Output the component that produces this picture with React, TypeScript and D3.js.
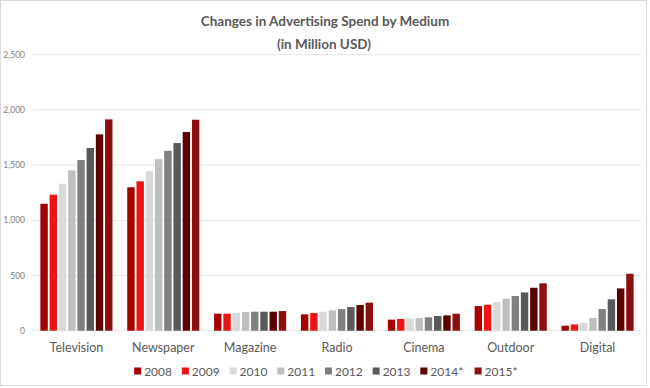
import React from "react";
import * as d3 from "d3";

const categories = ["Television", "Newspaper", "Magazine", "Radio", "Cinema", "Outdoor", "Digital"];
const years = ["2008", "2009", "2010", "2011", "2012", "2013", "2014*", "2015*"];
const yearColors = ["#a50000", "#ee1414", "#d9d9d9", "#bfbfbf", "#808080", "#595959", "#5e0000", "#8c0e0e"];

const television = [1150, 1232, 1331, 1452, 1546, 1655, 1778, 1914];
const newspaper = [1299, 1353, 1447, 1553, 1630, 1700, 1800, 1911];
const magazine = [154, 154, 160, 169, 172, 172, 172, 178];
const radio = [148, 160, 172, 184, 196, 214, 232, 254];
const cinema = [100, 106, 109, 115, 121, 133, 139, 154];
const outdoor = [223, 235, 260, 290, 314, 347, 389, 429];
const digital = [45, 57, 72, 115, 196, 284, 383, 516];

const seriesByCategory = [television, newspaper, magazine, radio, cinema, outdoor, digital];
const yTicks = [0, 500, 1000, 1500, 2000, 2500];

const W = 650;
const H = 388;
const plotLeft = 33;
const plotRight = 641;
const plotTop = 54.7;
const plotBottom = 330.7;
const textColor = "#595959";
const font = "Lato, 'Open Sans', sans-serif";

export default function App() {
  const x0 = d3.scaleBand<string>().domain(categories).range([plotLeft, plotRight]).paddingInner(0.17).paddingOuter(0.085);
  const x1 = d3.scaleBand<string>().domain(years).range([0, x0.bandwidth()]).paddingInner(0.2);
  const y = d3.scaleLinear().domain([0, 2500]).range([plotBottom, plotTop]);
  const fmt = d3.format(",");

  const itemW = (label: string) => 21.5 + label.length * 6.55;
  const totalLegend = years.reduce((s, l) => s + itemW(l), 0) - 11;
  let lx = 326 - totalLegend / 2;
  const legendItems = years.map((yr, i) => {
    const item = { yr, x: lx, color: yearColors[i] };
    lx += itemW(yr);
    return item;
  });

  return (
    <div style={{ position: "absolute", left: 0, top: 0 }}>
      <svg width={W} height={H} style={{ display: "block", background: "#fff" }}>
        <rect x={0.5} y={0.5} width={W - 4} height={H - 3} fill="#fff" stroke="#d9d9d9" />
        <text x={325} y={25.5} textAnchor="middle" fontFamily={font} fontWeight="bold" fontSize={13.5} fill={textColor}>
          Changes in Advertising Spend by Medium
        </text>
        <text x={324} y={48.5} textAnchor="middle" fontFamily={font} fontWeight="bold" fontSize={13.5} fill={textColor}>
          (in Million USD)
        </text>
        {yTicks.map((t) => (
          <g key={t}>
            <line x1={plotLeft} x2={plotRight} y1={y(t)} y2={y(t)} stroke="#e3e3e3" strokeWidth={1} />
            <text x={25} y={y(t) + 3} textAnchor="end" fontFamily={font} fontSize={8.5} fill="#7f7f7f">
              {fmt(t)}
            </text>
          </g>
        ))}
        {categories.map((c, ci) => (
          <g key={c} transform={`translate(${x0(c)},0)`}>
            {seriesByCategory[ci].map((v, yi) => (
              <rect key={yi} x={x1(years[yi])} y={y(v)} width={x1.bandwidth()} height={y(0) - y(v)} fill={yearColors[yi]} />
            ))}
            <text x={x0.bandwidth() / 2} y={352} textAnchor="middle" fontFamily={font} fontSize={12.5} fill={textColor}>
              {c}
            </text>
          </g>
        ))}
        {legendItems.map((it) => (
          <g key={it.yr}>
            <rect x={it.x} y={367.5} width={7} height={7} fill={it.color} />
            <text x={it.x + 10} y={375.5} fontFamily={font} fontSize={12} fill={textColor}>
              {it.yr}
            </text>
          </g>
        ))}
      </svg>
    </div>
  );
}
